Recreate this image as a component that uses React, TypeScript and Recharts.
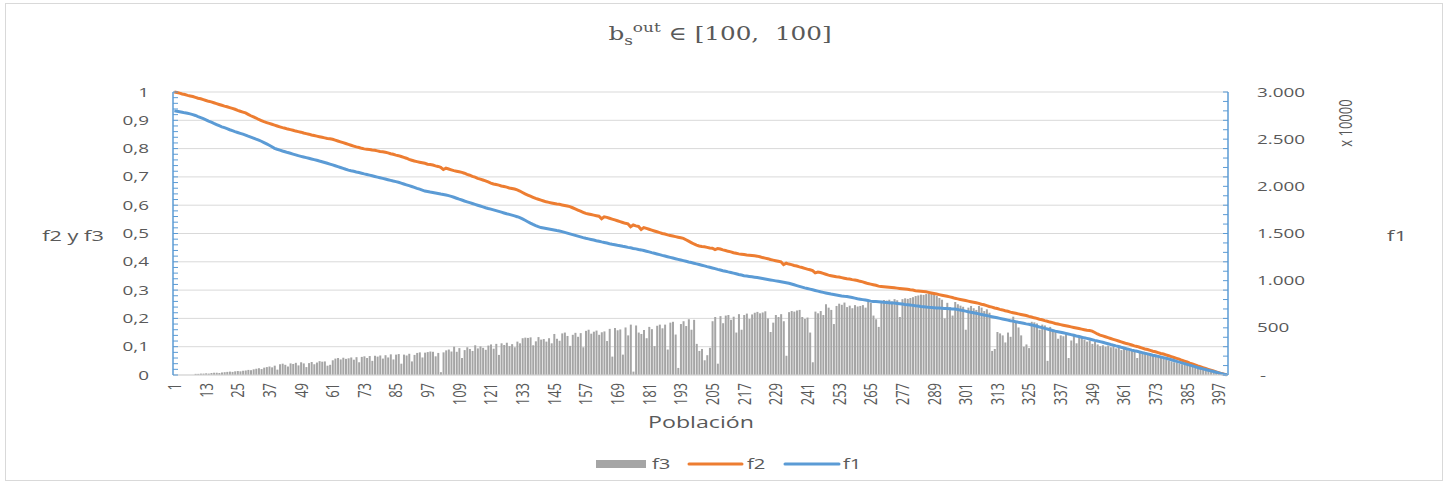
import { Bar, CartesianGrid, ComposedChart, Line, XAxis, YAxis } from "recharts";

const W = 1449;
const H = 485;
// the source picture is stretched sideways, so every text gets a scaleX
const SX = 1.45;
const FONT = "'Open Sans', sans-serif";
const SERIF = "'DejaVu Serif', serif";
const TEXT = "#595959";
const BLUE = "#5B9BD5";
const ORANGE = "#ED7D31";
const GRAY = "#A5A5A5";
const GRID = "#D9D9D9";

// f1, right axis, in units of 10000
const f1 = [
  2800, 2796, 2791, 2785, 2779, 2774, 2768, 2760, 2751, 2739, 2728, 2717, 2705, 2692, 2680, 2667, 2655, 2643, 2631, 2622,
  2612, 2600, 2590, 2580, 2571, 2562, 2553, 2543, 2532, 2522, 2511, 2500, 2490, 2478, 2464, 2450, 2436, 2420, 2403, 2393,
  2384, 2375, 2367, 2358, 2350, 2342, 2334, 2325, 2318, 2311, 2304, 2297, 2290, 2283, 2276, 2268, 2261, 2253, 2245, 2236,
  2227, 2218, 2209, 2200, 2191, 2181, 2172, 2165, 2159, 2152, 2146, 2139, 2132, 2126, 2119, 2112, 2105, 2098, 2091, 2084,
  2077, 2070, 2063, 2056, 2050, 2043, 2034, 2025, 2016, 2007, 1998, 1989, 1979, 1970, 1960, 1950, 1945, 1939, 1934, 1929,
  1924, 1918, 1913, 1908, 1902, 1893, 1884, 1874, 1864, 1855, 1845, 1836, 1827, 1818, 1809, 1800, 1791, 1782, 1773, 1765,
  1758, 1750, 1742, 1734, 1726, 1718, 1710, 1703, 1695, 1687, 1678, 1668, 1655, 1640, 1625, 1610, 1596, 1583, 1572, 1563,
  1558, 1553, 1548, 1543, 1538, 1532, 1527, 1520, 1512, 1504, 1496, 1488, 1480, 1472, 1464, 1456, 1449, 1443, 1437, 1431,
  1424, 1418, 1411, 1405, 1399, 1392, 1386, 1381, 1375, 1370, 1364, 1359, 1353, 1348, 1342, 1337, 1331, 1326, 1319, 1312,
  1305, 1297, 1290, 1283, 1276, 1268, 1261, 1254, 1247, 1240, 1233, 1226, 1219, 1212, 1205, 1198, 1192, 1185, 1178, 1171,
  1164, 1157, 1149, 1142, 1135, 1128, 1120, 1113, 1106, 1100, 1093, 1087, 1080, 1073, 1066, 1060, 1053, 1049, 1045, 1041,
  1037, 1033, 1028, 1023, 1018, 1013, 1008, 1003, 998, 993, 988, 983, 978, 972, 964, 956, 948, 940, 932, 924,
  917, 910, 903, 896, 889, 882, 876, 870, 864, 858, 853, 848, 843, 838, 834, 831, 826, 821, 815, 809,
  804, 799, 794, 789, 783, 780, 778, 776, 774, 771, 769, 767, 764, 762, 759, 756, 752, 748, 745, 741,
  738, 734, 731, 727, 724, 720, 717, 715, 713, 711, 710, 708, 706, 704, 702, 700, 699, 694, 688, 683,
  677, 671, 666, 660, 654, 648, 642, 636, 630, 624, 618, 612, 606, 600, 594, 588, 582, 576, 571, 565,
  559, 554, 548, 542, 537, 531, 524, 517, 509, 502, 494, 487, 479, 472, 465, 459, 453, 447, 441, 434,
  428, 421, 414, 408, 401, 394, 388, 381, 374, 367, 361, 354, 347, 339, 332, 324, 317, 309, 302, 294,
  287, 279, 272, 264, 257, 251, 244, 237, 230, 224, 217, 210, 204, 197, 190, 184, 177, 169, 161, 153,
  145, 137, 129, 121, 113, 105, 97, 89, 80, 72, 65, 58, 51, 44, 37, 30, 22, 15, 8, 2,
];

const f2 = [
  1.0, 0.998, 0.996, 0.993, 0.991, 0.988, 0.986, 0.984, 0.981, 0.978, 0.976, 0.973, 0.97, 0.967, 0.965, 0.962, 0.959, 0.956, 0.953, 0.95,
  0.948, 0.945, 0.942, 0.939, 0.935, 0.932, 0.929, 0.926, 0.921, 0.916, 0.912, 0.908, 0.903, 0.899, 0.895, 0.892, 0.889, 0.886, 0.883, 0.88,
  0.877, 0.874, 0.872, 0.869, 0.867, 0.865, 0.862, 0.86, 0.858, 0.855, 0.853, 0.851, 0.848, 0.846, 0.844, 0.842, 0.84, 0.838, 0.836, 0.835,
  0.833, 0.83, 0.827, 0.824, 0.821, 0.818, 0.815, 0.812, 0.809, 0.806, 0.804, 0.801, 0.799, 0.798, 0.797, 0.795, 0.794, 0.792, 0.79, 0.789,
  0.787, 0.785, 0.782, 0.78, 0.777, 0.775, 0.772, 0.769, 0.766, 0.762, 0.759, 0.756, 0.754, 0.752, 0.75, 0.748, 0.745, 0.744, 0.742, 0.739,
  0.737, 0.734, 0.726, 0.731, 0.728, 0.725, 0.722, 0.72, 0.718, 0.716, 0.713, 0.709, 0.706, 0.702, 0.699, 0.695, 0.692, 0.689, 0.686, 0.682,
  0.678, 0.675, 0.673, 0.671, 0.668, 0.666, 0.664, 0.661, 0.659, 0.657, 0.654, 0.65, 0.645, 0.64, 0.636, 0.632, 0.628, 0.624, 0.621, 0.618,
  0.615, 0.612, 0.61, 0.608, 0.606, 0.604, 0.603, 0.601, 0.599, 0.597, 0.595, 0.591, 0.587, 0.583, 0.579, 0.575, 0.571, 0.569, 0.567, 0.565,
  0.563, 0.561, 0.552, 0.559, 0.557, 0.554, 0.551, 0.548, 0.545, 0.542, 0.539, 0.536, 0.534, 0.524, 0.53, 0.527, 0.525, 0.514, 0.521, 0.518,
  0.515, 0.512, 0.509, 0.506, 0.503, 0.5, 0.498, 0.495, 0.493, 0.491, 0.489, 0.487, 0.485, 0.483, 0.478, 0.473, 0.468, 0.463, 0.459, 0.456,
  0.454, 0.453, 0.451, 0.449, 0.448, 0.443, 0.447, 0.445, 0.442, 0.44, 0.437, 0.435, 0.432, 0.43, 0.428, 0.427, 0.426, 0.424, 0.423, 0.422,
  0.421, 0.42, 0.418, 0.415, 0.413, 0.411, 0.408, 0.406, 0.404, 0.402, 0.4, 0.39, 0.395, 0.392, 0.39, 0.387, 0.385, 0.382, 0.38, 0.377,
  0.374, 0.372, 0.369, 0.361, 0.364, 0.362, 0.359, 0.356, 0.353, 0.351, 0.349, 0.347, 0.346, 0.344, 0.342, 0.34, 0.339, 0.337, 0.336, 0.334,
  0.331, 0.329, 0.326, 0.323, 0.321, 0.319, 0.317, 0.314, 0.313, 0.312, 0.311, 0.31, 0.309, 0.308, 0.307, 0.306, 0.305, 0.304, 0.303, 0.301,
  0.3, 0.298, 0.297, 0.296, 0.295, 0.294, 0.292, 0.29, 0.288, 0.286, 0.284, 0.282, 0.28, 0.278, 0.276, 0.274, 0.271, 0.269, 0.267, 0.265,
  0.263, 0.261, 0.259, 0.257, 0.255, 0.253, 0.25, 0.248, 0.245, 0.242, 0.24, 0.237, 0.235, 0.232, 0.23, 0.227, 0.225, 0.222, 0.22, 0.218,
  0.216, 0.214, 0.212, 0.21, 0.207, 0.205, 0.202, 0.2, 0.197, 0.195, 0.192, 0.19, 0.187, 0.185, 0.182, 0.18, 0.178, 0.176, 0.174, 0.172,
  0.17, 0.168, 0.166, 0.164, 0.162, 0.16, 0.158, 0.157, 0.155, 0.15, 0.145, 0.141, 0.138, 0.135, 0.132, 0.129, 0.126, 0.123, 0.12, 0.117,
  0.114, 0.111, 0.109, 0.106, 0.103, 0.101, 0.098, 0.095, 0.092, 0.09, 0.087, 0.084, 0.082, 0.079, 0.076, 0.074, 0.071, 0.068, 0.065, 0.062,
  0.059, 0.056, 0.052, 0.049, 0.046, 0.042, 0.039, 0.036, 0.032, 0.029, 0.026, 0.023, 0.02, 0.017, 0.014, 0.011, 0.008, 0.005, 0.003, 0.001,
];

const f3 = [
  0, 0, 0, 0, 0, 0, 0, 0, 0.004, 0.004, 0.005, 0.005, 0.006, 0.005, 0.007, 0.008, 0.008, 0.007, 0.009, 0.01,
  0.011, 0.012, 0.011, 0.013, 0.014, 0.013, 0.015, 0.016, 0.018, 0.017, 0.02, 0.022, 0.024, 0.021, 0.026, 0.028, 0.03, 0.027, 0.033, 0.019,
  0.038, 0.04, 0.036, 0.03, 0.041, 0.039, 0.043, 0.034, 0.045, 0.041, 0.028, 0.042, 0.046, 0.038, 0.044, 0.049, 0.047, 0.048, 0.033, 0.036,
  0.052, 0.058, 0.06, 0.055, 0.061, 0.057, 0.059, 0.062, 0.054, 0.063, 0.045, 0.064, 0.066, 0.06, 0.067, 0.05, 0.068, 0.065, 0.069, 0.058,
  0.07, 0.062, 0.073, 0.055, 0.072, 0.074, 0.04, 0.072, 0.069, 0.075, 0.048, 0.071, 0.078, 0.08, 0.062, 0.079, 0.081, 0.083, 0.082, 0.066,
  0.078, 0.01, 0.08, 0.087, 0.09, 0.083, 0.1, 0.082, 0.095, 0.06, 0.088, 0.098, 0.092, 0.085, 0.105, 0.094, 0.101, 0.096, 0.089, 0.104,
  0.108, 0.093, 0.11, 0.071, 0.112, 0.106, 0.114, 0.102, 0.109, 0.098, 0.118, 0.112, 0.13, 0.132, 0.131, 0.133, 0.105, 0.119, 0.134, 0.125,
  0.127, 0.118, 0.13, 0.112, 0.145, 0.128, 0.121, 0.147, 0.15, 0.138, 0.103, 0.142, 0.149, 0.135, 0.148, 0.098, 0.156, 0.16, 0.146, 0.153,
  0.157, 0.142, 0.151, 0.154, 0.12, 0.163, 0.065, 0.166, 0.158, 0.161, 0.072, 0.168, 0.14, 0.178, 0.012, 0.175, 0.15, 0.145, 0.159, 0.13,
  0.17, 0.162, 0.102, 0.174, 0.178, 0.165, 0.178, 0.09, 0.185, 0.188, 0.143, 0.025, 0.18, 0.19, 0.173, 0.197, 0.16, 0.195, 0.11, 0.085,
  0.092, 0.052, 0.07, 0.096, 0.19, 0.205, 0.04, 0.208, 0.183, 0.21, 0.212, 0.195, 0.206, 0.15, 0.215, 0.16, 0.212, 0.217, 0.198, 0.214,
  0.22, 0.223, 0.218, 0.221, 0.225, 0.2, 0.152, 0.185, 0.212, 0.205, 0.215, 0.19, 0.068, 0.222, 0.226, 0.224, 0.228, 0.23, 0.205, 0.198,
  0.203, 0.15, 0.045, 0.224, 0.218, 0.226, 0.212, 0.25, 0.238, 0.23, 0.18, 0.244, 0.252, 0.248, 0.256, 0.24, 0.245, 0.236, 0.247, 0.242,
  0.244, 0.247, 0.238, 0.259, 0.255, 0.21, 0.197, 0.17, 0.262, 0.265, 0.263, 0.266, 0.26, 0.268, 0.264, 0.205, 0.268, 0.271, 0.269, 0.272,
  0.275, 0.279, 0.281, 0.284, 0.283, 0.286, 0.288, 0.289, 0.285, 0.279, 0.272, 0.266, 0.2, 0.255, 0.24, 0.21, 0.258, 0.25, 0.245, 0.241,
  0.16, 0.238, 0.244, 0.236, 0.23, 0.244, 0.238, 0.226, 0.232, 0.22, 0.085, 0.092, 0.152, 0.147, 0.14, 0.115, 0.15, 0.135, 0.206, 0.19,
  0.168, 0.14, 0.1, 0.108, 0.095, 0.188, 0.186, 0.182, 0.16, 0.178, 0.175, 0.05, 0.17, 0.16, 0.155, 0.128, 0.14, 0.137, 0.148, 0.06,
  0.122, 0.145, 0.112, 0.14, 0.132, 0.125, 0.118, 0.122, 0.11, 0.118, 0.108, 0.102, 0.105, 0.1, 0.104, 0.098, 0.102, 0.094, 0.096, 0.088,
  0.092, 0.09, 0.087, 0.089, 0.083, 0.06, 0.08, 0.079, 0.076, 0.075, 0.073, 0.068, 0.064, 0.066, 0.06, 0.058, 0.055, 0.051, 0.048, 0.045,
  0.043, 0.04, 0.038, 0.042, 0.036, 0.033, 0.03, 0.028, 0.025, 0.023, 0.021, 0.018, 0.016, 0.014, 0.012, 0.01, 0.008, 0.006, 0.003, 0.001,
];

const categories = f1.map((_, i) => i + 1);

// left axis: minor ticks every 0.02, labels and grid every 0.1
const leftTicks = Array.from({ length: 51 }, (_, i) => i / 50);
const gridValues = Array.from({ length: 11 }, (_, i) => i / 10);
// right axis: minor ticks every 100, labels every 500
const rightTicks = Array.from({ length: 31 }, (_, i) => i * 100);

const rows = categories.map((cat, i) => ({ cat, f1: f1[i], f2: f2[i], f3: f3[i] }));

const LEFT_MARGIN = 24;
const RIGHT_MARGIN = 29;

function stretch(x: number, y: number, extra = "") {
  return `translate(${x},${y}) scale(${SX},1)${extra}`;
}

function formatLeft(v: number) {
  if (v === 0) return "0";
  if (v === 1) return "1";
  return v.toFixed(1).replace(".", ",");
}

function formatRight(v: number) {
  if (v === 0) return "-";
  return v.toLocaleString("de-DE");
}

function LeftTick(props: any) {
  const { x, y, payload } = props;
  const v = payload.value as number;
  const axisX = x + LEFT_MARGIN;
  const major = Math.round(v * 50) % 5 === 0;
  return (
    <g>
      <line x1={axisX} x2={axisX + 5} y1={y} y2={y} stroke={BLUE} strokeWidth={1} />
      {major && (
        <text transform={stretch(x, y)} textAnchor="end" dy="0.35em" fill={TEXT} fontSize={13} fontFamily={FONT}>
          {formatLeft(v)}
        </text>
      )}
    </g>
  );
}

function RightTick(props: any) {
  const { x, y, payload } = props;
  const v = payload.value as number;
  const axisX = x - RIGHT_MARGIN;
  const major = v % 500 === 0;
  return (
    <g>
      <line x1={axisX} x2={axisX - 5} y1={y} y2={y} stroke={BLUE} strokeWidth={1} />
      {major && (
        <text
          transform={stretch(v === 0 ? x + 3 : x, y)}
          textAnchor="start"
          dy="0.35em"
          fill={TEXT}
          fontSize={13}
          fontFamily={FONT}
        >
          {formatRight(v)}
        </text>
      )}
    </g>
  );
}

function XTick(props: any) {
  const { x, y, payload } = props;
  return (
    <text
      transform={stretch(x, y, " rotate(-90)")}
      textAnchor="end"
      dy="0.35em"
      fill={TEXT}
      fontSize={13}
      fontFamily={FONT}
    >
      {payload.value}
    </text>
  );
}

function Overlay() {
  const txt = { fill: TEXT, fontFamily: FONT };
  return (
    <svg width={W} height={H} style={{ position: "absolute", left: 0, top: 0, pointerEvents: "none" }}>
      <rect x={5.5} y={3.5} width={1437} height={477} fill="none" stroke={GRID} />
      <text transform={`translate(720,40) scale(1.3,1)`} textAnchor="middle" fill={TEXT} fontFamily={SERIF} fontSize={19} style={{ whiteSpace: "pre" }}>
        <tspan>b</tspan>
        <tspan fontSize={13} dy={5}>s</tspan>
        <tspan fontSize={13} dy={-13}>out</tspan>
        <tspan dy={8}>{" \u2208 [100,  100]"}</tspan>
      </text>
      <text transform={stretch(73, 241)} textAnchor="middle" fontSize={15} {...txt}>f2 y f3</text>
      <text transform={stretch(1397, 241)} textAnchor="middle" fontSize={15} {...txt}>f1</text>
      <text transform={stretch(1345, 123, " rotate(-90)")} textAnchor="middle" dy="0.35em" fontSize={13} {...txt}>x 10000</text>
      <text transform={stretch(701, 428)} textAnchor="middle" fontSize={16} {...txt}>Población</text>

      <rect x={596} y={460} width={50} height={8} fill={GRAY} />
      <text transform={stretch(652, 469)} fontSize={14} {...txt}>f3</text>
      <line x1={689} x2={742} y1={464} y2={464} stroke={ORANGE} strokeWidth={3} strokeLinecap="round" />
      <text transform={stretch(747, 469)} fontSize={14} {...txt}>f2</text>
      <line x1={785} x2={839} y1={464} y2={464} stroke={BLUE} strokeWidth={3} strokeLinecap="round" />
      <text transform={stretch(843, 469)} fontSize={14} {...txt}>f1</text>
    </svg>
  );
}

export default function App() {
  return (
    <div style={{ position: "fixed", left: 0, top: 0, width: W, height: H, background: "#fff" }}>
      <ComposedChart
        width={W}
        height={H}
        data={rows}
        margin={{ top: 92, right: 161, bottom: 70, left: 113 }}
        barCategoryGap="20%"
      >
        <CartesianGrid stroke={GRID} vertical={false} yAxisId="left" horizontalValues={gridValues} />
        <XAxis
          dataKey="cat"
          interval={11}
          height={40}
          tickSize={0}
          tickMargin={8}
          tickLine={false}
          axisLine={{ stroke: GRID }}
          tick={<XTick />}
        />
        <YAxis
          yAxisId="left"
          domain={[0, 1]}
          ticks={leftTicks}
          interval={0}
          width={60}
          tickSize={0}
          tickMargin={LEFT_MARGIN}
          tickLine={false}
          axisLine={{ stroke: BLUE, strokeWidth: 1.5 }}
          tick={<LeftTick />}
        />
        <YAxis
          yAxisId="right"
          orientation="right"
          domain={[0, 3000]}
          ticks={rightTicks}
          interval={0}
          width={60}
          tickSize={0}
          tickMargin={RIGHT_MARGIN}
          tickLine={false}
          axisLine={{ stroke: BLUE, strokeWidth: 1.5 }}
          tick={<RightTick />}
        />
        <Bar yAxisId="left" dataKey="f3" fill={GRAY} isAnimationActive={false} />
        <Line yAxisId="left" type="linear" dataKey="f2" stroke={ORANGE} strokeWidth={3} dot={false} isAnimationActive={false} />
        <Line yAxisId="right" type="linear" dataKey="f1" stroke={BLUE} strokeWidth={3} dot={false} isAnimationActive={false} />
      </ComposedChart>
      <Overlay />
    </div>
  );
}
